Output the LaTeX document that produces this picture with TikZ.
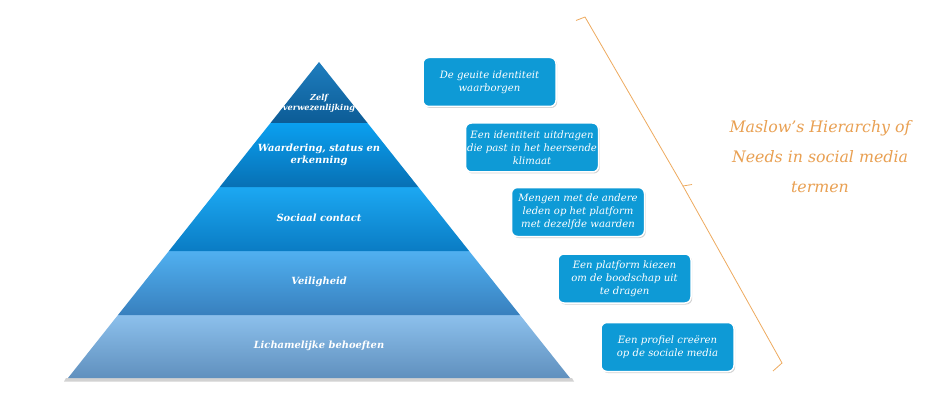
\documentclass[tikz,border=0pt]{standalone}
\usepackage{fontspec}
\setmainfont{DejaVu Serif}
\usetikzlibrary{shadows}
\definecolor{boxblue}{RGB}{14,154,214}
\definecolor{titleorange}{RGB}{233,160,82}
\definecolor{braceorange}{RGB}{238,170,95}
\definecolor{bOneTop}{RGB}{30,125,190}
\definecolor{bOneBot}{RGB}{12,92,150}
\definecolor{bTwoTop}{RGB}{10,160,240}
\definecolor{bTwoBot}{RGB}{8,112,180}
\definecolor{bThrTop}{RGB}{28,168,242}
\definecolor{bThrBot}{RGB}{10,124,196}
\definecolor{bFouTop}{RGB}{80,176,240}
\definecolor{bFouBot}{RGB}{56,128,190}
\definecolor{bFivTop}{RGB}{140,192,236}
\definecolor{bFivBot}{RGB}{96,144,190}
\tikzset{
  band/.style={draw=none},
  bandlabel/.style={text=white, font=\bfseries\itshape\fontsize{9.9}{12}\selectfont, align=center, inner sep=0pt},
  needbox/.style={rounded corners=6pt, fill=boxblue, draw=white, line width=1.5pt,
    minimum width=133pt, minimum height=49pt, text=white, align=center, inner sep=0pt,
    font=\itshape\fontsize{10.1}{13}\selectfont,
    drop shadow={shadow xshift=1.2pt, shadow yshift=-1.5pt, opacity=0.35, fill=gray}},
  bracepath/.style={draw=braceorange, line width=0.8pt, line join=miter},
  titletext/.style={text=titleorange, font=\itshape\fontsize{15.8}{30}\selectfont, align=center}
}
\begin{document}
\begin{tikzpicture}[x=1pt,y=-1pt]
\useasboundingbox[fill=white] (0,0) rectangle (952,406);
% base shadow
\fill[gray!35] (66,378) -- (572,378) -- (574,381.5) -- (64,381.5) -- cycle;
% bands (y: 62,123,187,251,315,378 ; half widths 0,48.5,99.3,150.1,201,251)
\shade[band, top color=bFivTop, bottom color=bFivBot] (118,315) -- (520,315) -- (570,378) -- (68,378) -- cycle;
\shade[band, top color=bFouTop, bottom color=bFouBot] (168.9,251) -- (469.1,251) -- (520,315) -- (118,315) -- cycle;
\shade[band, top color=bThrTop, bottom color=bThrBot] (219.7,187) -- (418.3,187) -- (469.1,251) -- (168.9,251) -- cycle;
\shade[band, top color=bTwoTop, bottom color=bTwoBot] (270.5,123) -- (367.5,123) -- (418.3,187) -- (219.7,187) -- cycle;
\shade[band, top color=bOneTop, bottom color=bOneBot] (319,62) -- (367.5,123) -- (270.5,123) -- cycle;
% band labels
\node[bandlabel, font=\bfseries\itshape\fontsize{8.2}{10}\selectfont] (l1) at (319,103.5) {Zelf\\verwezenlijking};
\node[bandlabel] (l2) at (319,155) {Waardering, status en\\erkenning};
\node[bandlabel] (l3) at (319,218) {Sociaal contact};
\node[bandlabel] (l4) at (319,282) {Veiligheid};
\node[bandlabel] (l5) at (319,346) {Lichamelijke behoeften};
% boxes
\node[needbox] (b1) at (489.5,82) {De geuite identiteit\\waarborgen};
\node[needbox] (b2) at (532,147.5) {Een identiteit uitdragen\\die past in het heersende\\klimaat};
\node[needbox] (b3) at (578,212) {Mengen met de andere\\leden op het platform\\met dezelfde waarden};
\node[needbox] (b4) at (624.5,278.5) {Een platform kiezen\\om de boodschap uit\\te dragen};
\node[needbox] (b5) at (667.5,347) {Een profiel creëren\\op de sociale media};
% brace
\coordinate (bt1) at (576,20.5);
\coordinate (bt2) at (585,17);
\coordinate (bm1) at (683,186);
\coordinate (bc) at (692,184.5);
\coordinate (bb1) at (782,363);
\coordinate (bb2) at (773,371);
\draw[bracepath] (bt1) -- (bt2) -- (bm1) -- (bc);
\draw[bracepath] (bm1) -- (bb1) -- (bb2);
% title
\node[titletext] (title) at (820,157) {Maslow's Hierarchy of\\Needs in social media\\termen};
\end{tikzpicture}
\end{document}
